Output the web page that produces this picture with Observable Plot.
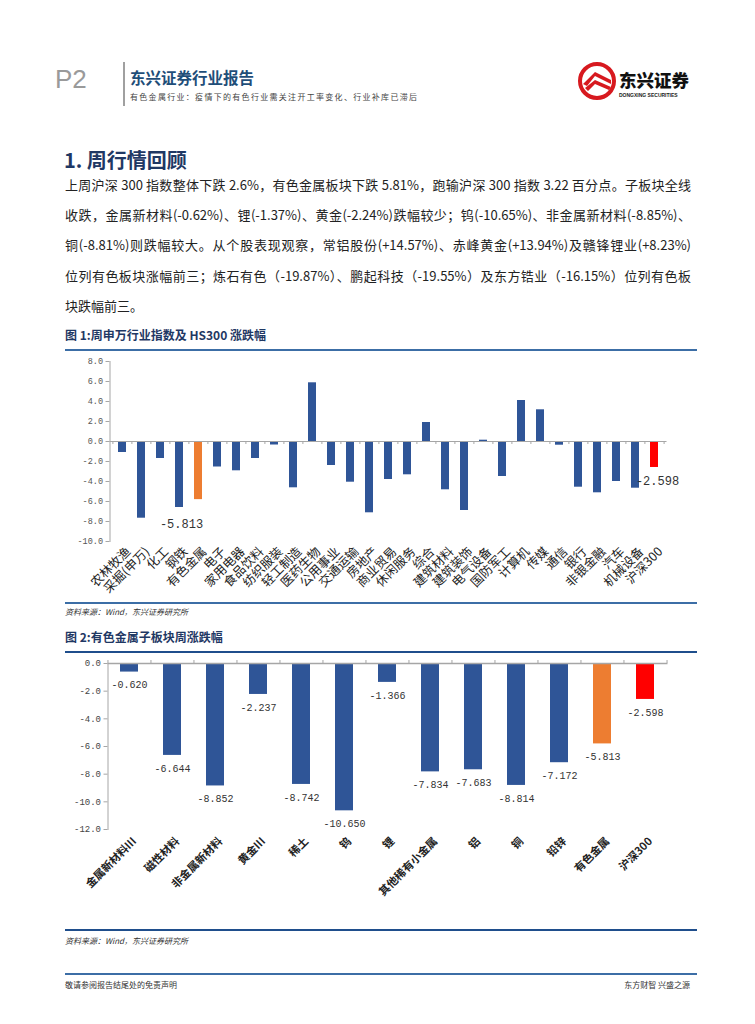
<!DOCTYPE html>
<html><head><meta charset="utf-8">
<script src="https://cdn.jsdelivr.net/npm/d3@7"></script>
<script src="https://cdn.jsdelivr.net/npm/@observablehq/plot@0.6"></script>
<style>
body{margin:0;background:#fff;}
#page{position:relative;width:755px;height:1024px;overflow:hidden;font-family:"Noto Sans CJK SC","Noto Sans",sans-serif;color:#222;}
.abs{position:absolute;white-space:nowrap;}
.para{position:absolute;left:65px;width:626px;font-size:13px;line-height:20px;text-align:justify;text-align-last:justify;white-space:normal;}
.hr{position:absolute;left:65px;width:632px;}
.figt{position:absolute;left:65px;font-size:12px;font-weight:700;color:#1F3864;line-height:16px;}
.src{position:absolute;left:65px;font-size:8px;font-style:italic;color:#333;line-height:12px;}
</style></head>
<body><div id="page">
<div class="abs" style="left:55px;top:64px;font-family:'Liberation Sans',sans-serif;font-size:26px;line-height:30px;color:#9a9a9a;">P2</div>
<div class="abs" style="left:123px;top:62px;width:2px;height:44px;background:#a0a0a0;"></div>
<div class="abs" style="left:130px;top:68px;font-size:15.5px;line-height:18px;font-weight:700;color:#1F4E79;">东兴证券行业报告</div>
<div class="abs" style="left:130px;top:91px;font-size:8px;line-height:11px;color:#444;letter-spacing:1.3px;">有色金属行业：疫情下的有色行业需关注开工率变化、行业补库已滞后</div>
<svg class="abs" style="left:575px;top:60px;" width="125" height="44" viewBox="0 0 125 44">
  <circle cx="22" cy="21" r="17" fill="none" stroke="#d7191f" stroke-width="4"/>
  <path d="M8 24 L20 12 L36 20 L36 24 L20 16 L12 26 Z" fill="#d7191f"/>
  <path d="M10 28 L20 20 L36 27 L34 30 L20 24 L13 31 Z" fill="#d7191f"/>
  <text x="44" y="27" font-size="17.5" font-weight="900" fill="#111" font-family="Noto Sans CJK SC">东兴证券</text>
  <text x="44" y="37" font-size="5" font-weight="700" fill="#222" font-family="Liberation Sans">DONGXING SECURITIES</text>
</svg>
<div class="abs" style="left:64px;top:147px;font-size:20px;line-height:26px;font-weight:700;color:#1F3864;">1. 周行情回顾</div>
<div class="para" style="top:175px;">上周沪深 300 指数整体下跌 2.6%，有色金属板块下跌 5.81%，跑输沪深 300 指数 3.22 百分点。子板块全线</div>
<div class="para" style="top:205px;">收跌，金属新材料(-0.62%)、锂(-1.37%)、黄金(-2.24%)跌幅较少；钨(-10.65%)、非金属新材料(-8.85%)、</div>
<div class="para" style="top:235px;">铜(-8.81%)则跌幅较大。从个股表现观察，常铝股份(+14.57%)、赤峰黄金(+13.94%)及赣锋锂业(+8.23%)</div>
<div class="para" style="top:266px;">位列有色板块涨幅前三；炼石有色（-19.87%）、鹏起科技（-19.55%）及东方锆业（-16.15%）位列有色板</div>
<div class="para" style="top:296px;text-align-last:left;">块跌幅前三。</div>

<div class="figt" style="top:327px;">图 1:周申万行业指数及 HS300 涨跌幅</div>
<div class="hr" style="top:349px;height:2px;background:#3C6EA6;"></div>
<div id="c1" class="abs" style="left:0;top:350px;"></div>
<div class="hr" style="top:602px;height:2px;background:#3C6EA6;"></div>
<div class="src" style="top:606px;">资料来源：Wind，东兴证券研究所</div>

<div class="figt" style="top:629px;">图 2:有色金属子板块周涨跌幅</div>
<div class="hr" style="top:651px;height:2px;background:#1F4E8C;"></div>
<div id="c2" class="abs" style="left:0;top:653px;"></div>
<div class="hr" style="top:929px;height:2px;background:#1F4E8C;"></div>
<div class="src" style="top:935px;">资料来源：Wind，东兴证券研究所</div>

<div class="hr" style="top:973px;height:2px;background:#3C6EA6;"></div>
<div class="abs" style="left:65px;top:979px;font-size:8px;line-height:12px;color:#333;">敬请参阅报告结尾处的免责声明</div>
<div class="abs" style="right:65px;top:979px;font-size:8px;line-height:12px;color:#333;">东方财智 兴盛之源</div>
</div>
<script>
// ---- Chart 1 data ----
const cats1 = ["农林牧渔","采掘(申万)","化工","钢铁","有色金属","电子","家用电器","食品饮料","纺织服装","轻工制造","医药生物","公用事业","交通运输","房地产","商业贸易","休闲服务","综合","建筑材料","建筑装饰","电气设备","国防军工","计算机","传媒","通信","银行","非银金融","汽车","机械设备","沪深300"];
const vals1 = [-1.10,-7.67,-1.70,-6.60,-5.813,-2.55,-2.93,-1.70,-0.35,-4.63,5.87,-2.40,-4.07,-7.13,-3.80,-3.33,1.90,-4.83,-6.90,0.13,-3.50,4.10,3.17,-0.37,-4.57,-5.13,-4.00,-4.67,-2.598];
const ticks1 = [-10,-8,-6,-4,-2,0,2,4,6,8];
// ---- Chart 2 data ----
const cats2 = ["金属新材料III","磁性材料","非金属新材料","黄金III","稀土","钨","锂","其他稀有小金属","铝","铜","铅锌","有色金属","沪深300"];
const vals2 = [-0.620,-6.644,-8.852,-2.237,-8.742,-10.650,-1.366,-7.834,-7.683,-8.814,-7.172,-5.813,-2.598];
const ticks2 = [-12,-10,-8,-6,-4,-2,0];

const colorOf = c => c === "有色金属" ? "#ED7D31" : c === "沪深300" ? "#FF0000" : "#2F5597";
const data1 = cats1.map((c,i)=>({cat:c, v:vals1[i]}));
const data2 = cats2.map((c,i)=>({cat:c, v:vals2[i]}));
const monoFont = "'Liberation Mono','DejaVu Sans Mono',monospace";

function boundaryMarks(cats, step, yLenUnits, dir){
  // tick marks at band boundaries on the zero line
  const left = cats.map(c=>({cat:c, side:-1}));
  left.push({cat:cats[cats.length-1], side:1});
  return Plot.ruleX(left, {x:"cat", y1:0, y2:dir*yLenUnits, stroke:"#a6a6a6", render:(index, scales, values, dims, ctx, next)=>{
    const g = next(index, scales, values, dims, ctx);
    d3.select(g).selectAll("line").attr("transform",(d,i)=>`translate(${left[index[i]].side*step/2},0)`);
    return g;
  }});
}

// Chart 1
{
  const W=755, H=250, mL=109.5, mR=88.5, mT=11, mB=59;
  const step = (W-mL-mR)/cats1.length;
  const pxPerUnit = (H-mT-mB)/18;
  const chart = Plot.plot({
    width:W, height:H, marginLeft:mL, marginRight:mR, marginTop:mT, marginBottom:mB,
    style:{fontFamily:"'Noto Sans CJK SC',sans-serif", background:"transparent", overflow:"visible"},
    x:{domain:cats1, paddingInner:0.57, paddingOuter:0.285, label:null},
    y:{domain:[-10,8], label:null},
    marks:[
      Plot.barY(data1,{x:"cat", y:"v", fill:d=>colorOf(d.cat)}),
      Plot.ruleY([0],{stroke:"#a6a6a6", strokeWidth:1.2}),
      boundaryMarks(cats1, step, 3/pxPerUnit, -1),
      Plot.frame({anchor:"left", stroke:"#a6a6a6"}),
      Plot.axisY({ticks:ticks1, tickFormat:d=>d.toFixed(1), tickSize:4, tickPadding:3, stroke:"#a6a6a6", fill:"#555", fontFamily:monoFont, fontSize:8.5, label:null}),
      Plot.axisX({tickRotate:-45, tickSize:0, tickPadding:8, fontSize:12.5, fill:"#222", label:null, dx:6}),
      Plot.text(data1.filter(d=>d.cat==="有色金属"),{x:"cat", y:"v", text:d=>d.v.toFixed(3), dy:25, dx:-17, fontFamily:monoFont, fontSize:12, fill:"#333"}),
      Plot.text(data1.filter(d=>d.cat==="沪深300"),{x:"cat", y:"v", text:d=>d.v.toFixed(3), dy:14, dx:3, fontFamily:monoFont, fontSize:12, fill:"#333"})
    ]
  });
  document.getElementById("c1").appendChild(chart);
}
// Chart 2
{
  const W=755, H=270, mL=107.5, mR=87.5, mT=10, mB=94;
  const step = (W-mL-mR)/cats2.length;
  const pxPerUnit = (H-mT-mB)/12;
  const chart = Plot.plot({
    width:W, height:H, marginLeft:mL, marginRight:mR, marginTop:mT, marginBottom:mB,
    style:{fontFamily:"'Noto Sans CJK SC',sans-serif", background:"transparent", overflow:"visible"},
    x:{domain:cats2, paddingInner:0.575, paddingOuter:0.2875, label:null},
    y:{domain:[-12,0], label:null},
    marks:[
      Plot.barY(data2,{x:"cat", y:"v", fill:d=>colorOf(d.cat)}),
      Plot.ruleY([0],{stroke:"#a6a6a6", strokeWidth:1.5}),
      boundaryMarks(cats2, step, 3/pxPerUnit, 1),
      Plot.frame({anchor:"left", stroke:"#a6a6a6"}),
      Plot.axisY({ticks:ticks2, tickFormat:d=>d.toFixed(1), tickSize:4, tickPadding:3, stroke:"#a6a6a6", fill:"#444", fontFamily:monoFont, fontSize:9, label:null}),
      Plot.axisX({tickRotate:-45, tickSize:0, tickPadding:10, fontSize:11, fontWeight:700, fill:"#222", label:null, dx:5}),
      Plot.text(data2,{x:"cat", y:"v", text:d=>d.v.toFixed(3), dy:13, fontFamily:monoFont, fontSize:10, fill:"#333"})
    ]
  });
  document.getElementById("c2").appendChild(chart);
}
</script>
</body></html>
